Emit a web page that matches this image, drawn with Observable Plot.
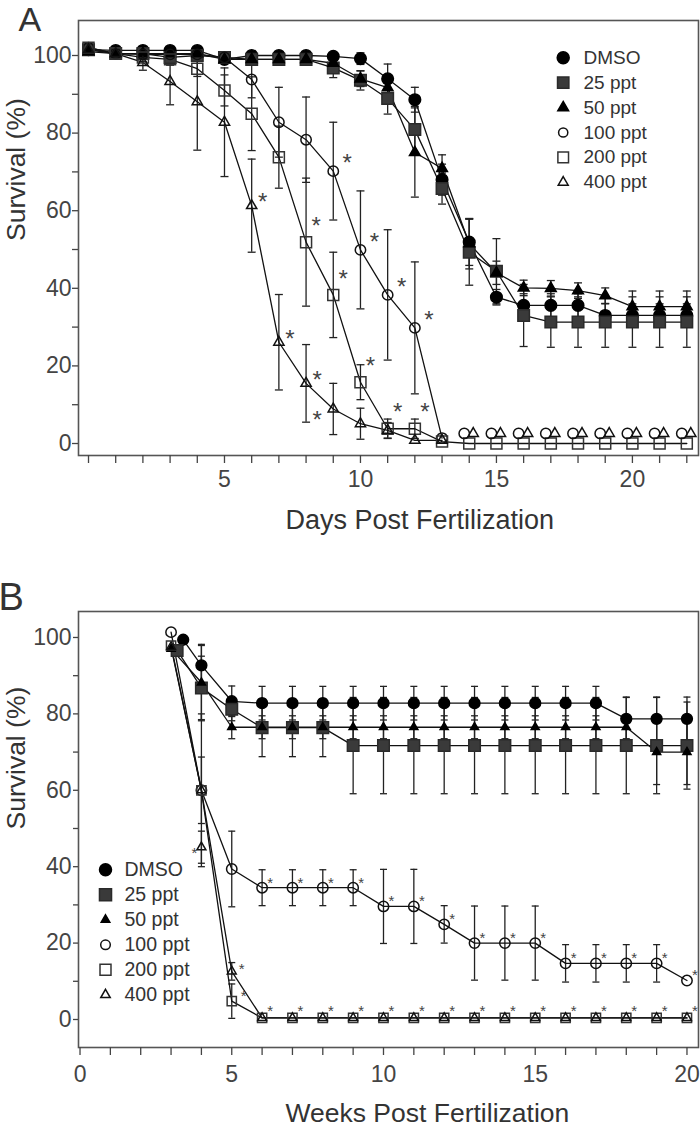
<!DOCTYPE html>
<html>
<head>
<meta charset="utf-8">
<script src="https://cdn.jsdelivr.net/npm/d3@7"></script>
<script src="https://cdn.jsdelivr.net/npm/@observablehq/plot@0.6"></script>
<style>
  body { margin: 0; background: #fff; }
  #chart { width: 700px; }
  #chart svg { display: block; }
</style>
</head>
<body>
<div id="chart"></div>
<script>
// ---------------- DATA ----------------
const seriesNames = ["DMSO", "25 ppt", "50 ppt", "100 ppt", "200 ppt", "400 ppt"];

// Panel A (days)
const daysA = [0,1,2,3,4,5,6,7,8,9,10,11,12,13,14,15,16,17,18,19,20,21,22];
const daysEarlyA = [0,1,2,3,4,5,6,7,8,9,10,11,12,13];
const daysLateA = [14,15,16,17,18,19,20,21,22];
const dmsoA    = [101.5,101.3,101.3,101.3,101.3,99,100,100,100,99.8,99.2,94,88.6,68,51.9,37.7,35.6,35.6,35.6,33,33,33,33];
const dmsoErrA = [0,0,0,0,0,1,0.5,0.5,0.5,0.5,1.5,3.8,3.2,4,6,2,3,3,3,3,3,3,3];
const p25A     = [101.5,100.5,100.5,99.5,100,99.5,99,99,99,96.8,93.6,88.9,80.9,65.7,49.3,44.4,33,31.3,31.3,31.3,31.3,31.3,31.3];
const p25ErrA  = [0,0,0,0.5,0.5,0.5,0.8,0.8,0.8,2.5,2.5,4,6,4,8.5,8.4,8,6.5,6.5,6.5,6.5,6.5,6.5];
const p50A     = [101,100.5,100.5,100.5,100.5,99,99,99,99,98,94,91.7,75,70.9,51.5,44,40.1,40,39.4,38.1,35.3,35.3,35.3];
const p50ErrA  = [0,0,0,0,0,0,0,0,0,1,2,3,11.5,3.5,6.5,3,2,2,2,2,4,4,4];
const p100A    = [102,100.5,100.3,100.3,100.3,99.5,93.8,82.8,78.3,70.2,49.9,38.3,29.8,1.4];
const p100ErrA = [0,0,0,0,0,1,4.7,9,11,12.6,15.2,16.8,17,0];
const p100LateA = [2.6,2.6,2.6,2.6,2.6,2.6,2.6,2.6,2.6];
const p200A    = [102,100.5,99.5,99,96.6,91,85,73.8,51.9,38.3,15.8,3.8,3.8,0.5,0,0,0,0,0,0,0,0,0];
const p200ErrA = [0,0,1,1.5,2,4,9.5,8,16.5,11,4.5,2.5,2.5,0,0,0,0,0,0,0,0,0,0];
const p400A    = [101.5,100.5,98.2,93.3,88.1,82.8,61.3,26.1,15.5,8.9,5.1,3.4,0.8,0.8];
const p400ErrA = [0,0,2,6,12.5,14,12,12.3,10,6.6,4,2,0,0];
const p400LateA = [2.6,2.6,2.6,2.6,2.6,2.6,2.6,2.6,2.6];
const starDays100A = [9,10,11,12];
const starDays200A = [8,9,10,11,12];
const starDays400A = [6,7,8];
const starDays400LeftA = [9];
const xTicksA = daysA;
const xLabelsA = [5,10,15,20];

// Panel B (weeks)
const weeksDmsoB = [3.4,4,5,6,7,8,9,10,11,12,13,14,15,16,17,18,19,20];
const weeks25B   = [3.2,4,5,6,7,8,9,10,11,12,13,14,15,16,17,18,19,20];
const weeksB     = [3,4,5,6,7,8,9,10,11,12,13,14,15,16,17,18,19,20];
const dmsoB    = [99.4,92.7,83.3,82.8,82.8,82.8,82.8,82.8,82.8,82.8,82.8,82.8,82.8,82.8,82.8,78.7,78.7,78.7];
const dmsoErrB = [0,5.2,4,4.4,4.4,4.4,4.4,4.4,4.4,4.4,4.4,4.4,4.4,4.4,4.4,5.7,5.7,5.7];
const p25B     = [96.6,86.8,81.2,76.4,76.4,76.4,71.7,71.7,71.7,71.7,71.7,71.7,71.7,71.7,71.7,71.7,71.7,71.7];
const p25ErrB  = [0,8.3,3,7.6,7.6,7.6,12.6,12.6,12.6,12.6,12.6,12.6,12.6,12.6,12.6,12.6,12.6,11.4];
const p50B     = [97,88.2,76.5,76.5,76.5,76.5,76.5,76.5,76.5,76.5,76.5,76.5,76.5,76.5,76.5,76.5,70,70];
const p50ErrB  = [0,10,3,3,3,3,3,3,3,3,3,3,3,3,3,3,8.5,8.5];
const p100B    = [101.4,60,39.4,34.5,34.5,34.5,34.5,29.6,29.6,24.9,20,20,20,14.7,14.7,14.7,14.7,10.2];
const p100ErrB = [0,8.7,9.9,4.7,4.7,4.7,4.7,9.7,9.7,4.9,9.7,9.7,9.7,4.9,4.9,4.9,4.9,0];
const p200B    = [97.9,60,4.8,0.4,0.4,0.4,0.4,0.4,0.4,0.4,0.4,0.4,0.4,0.4,0.4,0.4,0.4,0.4];
const p200ErrB = [0,20,4.5,0,0,0,0,0,0,0,0,0,0,0,0,0,0,0];
const p400B    = [97.5,60,12.6,0.4,0.4,0.4,0.4,0.4,0.4,0.4,0.4,0.4,0.4,0.4,0.4,0.4,0.4,0.4];
const p400ErrB = [0,0,2.3,0,0,0,0,0,0,0,0,0,0,0,0,0,0,0];
const weeksExtra400B = [4];
const extra400B = [45.1];
const extra400ErrB = [4.2];
const starWeeks100B = [6,7,8,9,10,11,12,13,14,15,16,17,18,19,20];
const starWeeksZeroB = [6,7,8,9,10,11,12,13,14,15,16,17,18,19,20];
const starWeeks400B = [5];
const starWeeks200B = [5];
const xTicksB = [0,1,2,3,4,5,6,7,8,9,10,11,12,13,14,15,16,17,18,19,20];
const xLabelsB = [0,5,10,15,20];

const yTicks = [0,10,20,30,40,50,60,70,80,90,100];
const yLabels = [0,20,40,60,80,100];

// ---------------- HELPERS ----------------
const FONT = "'Liberation Sans', Arial, sans-serif";
const TXT = "#333";
const mk = (xs, ys, es, s) => xs.map((x, i) => ({x, y: ys[i], e: es ? es[i] : 0, s}));
const capSym = (w) => ({draw(ctx) { ctx.moveTo(-w, 0); ctx.lineTo(w, 0); }});

const styleA = {
  "DMSO":    {symbol: "circle",   fill: "#000",    stroke: "#000", r: 5.8},
  "25 ppt":  {symbol: "square",   fill: "#3a3a3a", stroke: "#2a2a2a", r: 6.5},
  "50 ppt":  {symbol: "triangle", fill: "#000",    stroke: "#000", r: 4},
  "100 ppt": {symbol: "circle",   fill: "none",    stroke: "#111", r: 5.2},
  "200 ppt": {symbol: "square",   fill: "none",    stroke: "#333", r: 6.2},
  "400 ppt": {symbol: "triangle", fill: "none",    stroke: "#111", r: 3.8}
};
const styleB = {
  "DMSO":    {symbol: "circle",   fill: "#000",    stroke: "#000", r: 5.4},
  "25 ppt":  {symbol: "square",   fill: "#3a3a3a", stroke: "#2a2a2a", r: 6.5},
  "50 ppt":  {symbol: "triangle", fill: "#000",    stroke: "#000", r: 3},
  "100 ppt": {symbol: "circle",   fill: "none",    stroke: "#111", r: 5.2},
  "200 ppt": {symbol: "square",   fill: "none",    stroke: "#333", r: 5.2},
  "400 ppt": {symbol: "triangle", fill: "none",    stroke: "#111", r: 3.3}
};
const legendStyleA = {
  "DMSO": 6, "25 ppt": 6.4, "50 ppt": 4, "100 ppt": 4.6, "200 ppt": 6, "400 ppt": 3.7
};
const legendStyleB = {
  "DMSO": 6, "25 ppt": 6.8, "50 ppt": 3.2, "100 ppt": 4.8, "200 ppt": 6.2, "400 ppt": 3.5
};

function errMarks(rows, capW) {
  const er = rows.filter(d => d.e > 0);
  return [
    Plot.ruleX(er, {x: "x", y1: d => d.y - d.e, y2: d => d.y + d.e, stroke: "#222", strokeWidth: 1.3}),
    Plot.dot(er, {x: "x", y: d => d.y - d.e, symbol: capSym(capW), r: 1, fill: "none", stroke: "#222", strokeWidth: 1.3}),
    Plot.dot(er, {x: "x", y: d => d.y + d.e, symbol: capSym(capW), r: 1, fill: "none", stroke: "#222", strokeWidth: 1.3})
  ];
}
function dotMarks(rows, style) {
  return seriesNames.map(s => {
    const st = style[s];
    return Plot.dot(rows.filter(d => d.s === s), {x: "x", y: "y", symbol: st.symbol, fill: st.fill, stroke: st.stroke, r: st.r, strokeWidth: 1.5});
  });
}
function legendMarks(style, sizes, anchor, dxSym, dxText, dy0, step, fs) {
  const marks = [];
  seriesNames.forEach((s, i) => {
    const st = style[s];
    marks.push(Plot.dot([s], {x: null, y: null, frameAnchor: anchor, dx: dxSym, dy: dy0 + step * i,
      symbol: st.symbol, fill: st.fill, stroke: st.stroke, r: sizes[s], strokeWidth: 1.5}));
    marks.push(Plot.text([s], {text: d => d, frameAnchor: anchor, textAnchor: "start", lineAnchor: "middle",
      dx: dxText, dy: dy0 + step * i, fontSize: fs, fill: TXT}));
  });
  return marks;
}
const pick = (rows, s, xs) => rows.filter(d => d.s === s && xs.includes(d.x));
const star = (data, dx, dy, fs) => Plot.text(data, {x: "x", y: "y", text: () => "*", dx, dy, fontSize: fs, lineAnchor: "middle", fill: "#444"});

// ---------------- PANEL A ----------------
const rowsA = [
  ...mk(daysA, dmsoA, dmsoErrA, "DMSO"),
  ...mk(daysA, p25A, p25ErrA, "25 ppt"),
  ...mk(daysA, p50A, p50ErrA, "50 ppt"),
  ...mk(daysEarlyA, p100A, p100ErrA, "100 ppt"),
  ...mk(daysA, p200A, p200ErrA, "200 ppt"),
  ...mk(daysEarlyA, p400A, p400ErrA, "400 ppt")
];
const late100 = mk(daysLateA, p100LateA, null, "100 ppt");
const late400 = mk(daysLateA, p400LateA, null, "400 ppt");

const plotA = Plot.plot({
  width: 700, height: 545,
  marginTop: 20, marginLeft: 78, marginRight: 2, marginBottom: 90,
  style: {fontFamily: FONT, color: TXT, background: "#fff"},
  x: {domain: [-0.368, 22.43]},
  y: {domain: [-3.09, 109.02]},
  marks: [
    Plot.frame({stroke: "#555", strokeWidth: 1.6}),
    Plot.axisY({ticks: yTicks, tickFormat: d => yLabels.includes(d) ? d : "", tickSize: 6, tickPadding: 1, fontSize: 23, label: null, color: "#444", strokeWidth: 1.3}),
    Plot.axisX({ticks: xTicksA, tickFormat: d => xLabelsA.includes(d) ? d : "", tickSize: 8, tickPadding: 7, fontSize: 23, label: null, color: "#444", strokeWidth: 1.3}),
    ...errMarks(rowsA, 4),
    Plot.line(rowsA, {x: "x", y: "y", z: "s", stroke: "#111", strokeWidth: 1.3}),
    ...dotMarks(rowsA, styleA),
    Plot.dot(late100, {x: "x", y: "y", dx: -5, symbol: "circle", fill: "none", stroke: "#111", r: 5.2, strokeWidth: 1.5}),
    Plot.dot(late400, {x: "x", y: "y", dx: 4, symbol: "triangle", fill: "none", stroke: "#111", r: 3.8, strokeWidth: 1.5}),
    star(pick(rowsA, "400 ppt", starDays400A), 11, -3, 24),
    star(pick(rowsA, "400 ppt", starDays400LeftA), -16, 11, 24),
    star(pick(rowsA, "200 ppt", starDays200A), 10, -16, 24),
    star(pick(rowsA, "100 ppt", starDays100A), 14, -8, 24),
    ...legendMarks(styleA, legendStyleA, "top-right", -135.3, -115, 37.3, 24.9, 19),
    Plot.text(["Survival (%)"], {text: d => d, frameAnchor: "left", lineAnchor: "middle", rotate: -90, dx: -62, dy: 3, fontSize: 26.5, fill: TXT}),
    Plot.text(["Days Post Fertilization"], {text: d => d, frameAnchor: "bottom-left", textAnchor: "start", lineAnchor: "middle", dx: 207, dy: 64.4, fontSize: 27, fill: TXT}),
    Plot.text(["A"], {text: d => d, frameAnchor: "top-left", textAnchor: "start", lineAnchor: "middle", dx: -60, dy: 0, fontSize: 34, fill: TXT})
  ]
});

// ---------------- PANEL B ----------------
const rowsB = [
  ...mk(weeksDmsoB, dmsoB, dmsoErrB, "DMSO"),
  ...mk(weeks25B, p25B, p25ErrB, "25 ppt"),
  ...mk(weeksB, p50B, p50ErrB, "50 ppt"),
  ...mk(weeksB, p100B, p100ErrB, "100 ppt"),
  ...mk(weeksB, p200B, p200ErrB, "200 ppt"),
  ...mk(weeksB, p400B, p400ErrB, "400 ppt")
];
const extraB = mk(weeksExtra400B, extra400B, extra400ErrB, "400 ppt");

const plotB = Plot.plot({
  width: 700, height: 582,
  marginTop: 66, marginLeft: 78, marginRight: 2, marginBottom: 80,
  style: {fontFamily: FONT, color: TXT, background: "#fff"},
  x: {domain: [-0.05, 20.38]},
  y: {domain: [-7.33, 106.8]},
  marks: [
    Plot.frame({stroke: "#555", strokeWidth: 1.6}),
    Plot.axisY({ticks: yTicks, tickFormat: d => yLabels.includes(d) ? d : "", tickSize: 5, tickPadding: 2, fontSize: 23, label: null, color: "#444", strokeWidth: 1.3}),
    Plot.axisX({ticks: xTicksB, tickFormat: d => xLabelsB.includes(d) ? d : "", tickSize: 8, tickPadding: 10, fontSize: 23, label: null, color: "#444", strokeWidth: 1.3}),
    ...errMarks([...rowsB, ...extraB], 3.5),
    Plot.line(rowsB, {x: "x", y: "y", z: "s", stroke: "#111", strokeWidth: 1.3}),
    ...dotMarks(rowsB, styleB),
    Plot.dot(extraB, {x: "x", y: "y", symbol: "triangle", fill: "none", stroke: "#111", r: 3.3, strokeWidth: 1.5}),
    star(pick(rowsB, "100 ppt", starWeeks100B), 8, -5, 15),
    star(pick(rowsB, "200 ppt", starWeeksZeroB), 8, -7, 15),
    star(pick(rowsB, "400 ppt", starWeeks400B), 10, -2, 15),
    star(pick(rowsB, "200 ppt", starWeeks200B), 12, -5, 15),
    star(extraB, -7, 5.5, 15),
    ...legendMarks(styleB, legendStyleB, "top-left", 27, 46, 258.3, 25, 19.5),
    Plot.text(["Survival (%)"], {text: d => d, frameAnchor: "left", lineAnchor: "middle", rotate: -90, dx: -62, dy: 0, fontSize: 26.5, fill: TXT}),
    Plot.text(["Weeks Post Fertilization"], {text: d => d, frameAnchor: "bottom-left", textAnchor: "start", lineAnchor: "middle", dx: 207, dy: 66, fontSize: 26.5, fill: TXT}),
    Plot.text(["B"], {text: d => d, frameAnchor: "top-left", textAnchor: "start", lineAnchor: "middle", dx: -80, dy: -13.2, fontSize: 38, fill: TXT})
  ]
});

const chart = document.getElementById("chart");
chart.appendChild(plotA);
chart.appendChild(plotB);
</script>
</body>
</html>
